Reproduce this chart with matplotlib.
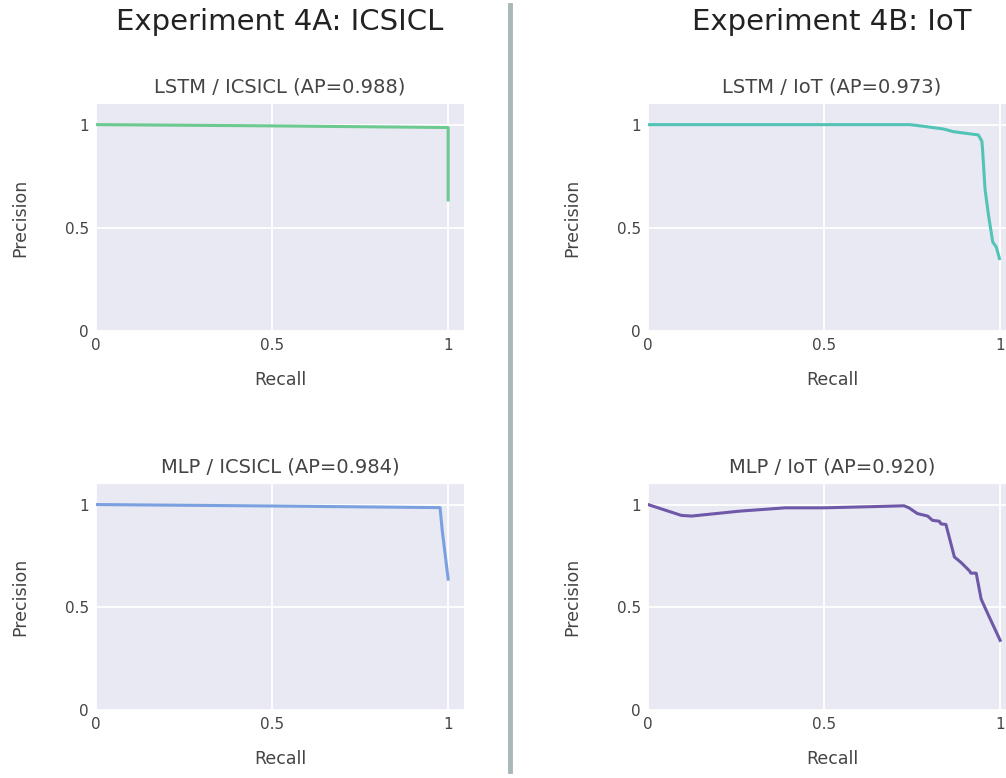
import numpy as np
import matplotlib.pyplot as plt

# PR curve points
lstm_icsicl_recall = [0.0, 0.5, 1.0, 1.0]
lstm_icsicl_precision = [1.0, 0.994, 0.986, 0.635]

mlp_icsicl_recall = [0.0, 0.5, 0.977, 0.983, 1.0]
mlp_icsicl_precision = [1.0, 0.993, 0.985, 0.877, 0.637]

lstm_iot_recall = [0.0, 0.744, 0.782, 0.839, 0.867, 0.938, 0.948, 0.950,
                   0.957, 0.967, 0.979, 0.989, 0.998]
lstm_iot_precision = [1.0, 1.0, 0.992, 0.979, 0.966, 0.950, 0.920, 0.880,
                      0.688, 0.560, 0.431, 0.407, 0.351]

mlp_iot_recall = [0.0, 0.095, 0.124, 0.261, 0.390, 0.499, 0.642, 0.727,
                  0.741, 0.765, 0.794, 0.808, 0.827, 0.832, 0.846, 0.870,
                  0.889, 0.913, 0.917, 0.932, 0.946, 0.965, 1.0]
mlp_iot_precision = [1.0, 0.947, 0.944, 0.968, 0.984, 0.984, 0.990, 0.994,
                     0.984, 0.956, 0.944, 0.923, 0.919, 0.906, 0.903, 0.745,
                     0.718, 0.677, 0.666, 0.666, 0.540, 0.468, 0.339]

panels = [
    ("LSTM / ICSICL (AP=0.988)", lstm_icsicl_recall, lstm_icsicl_precision, "#6cc98f"),
    ("MLP / ICSICL (AP=0.984)", mlp_icsicl_recall, mlp_icsicl_precision, "#7ba0e0"),
    ("LSTM / IoT (AP=0.973)", lstm_iot_recall, lstm_iot_precision, "#52c4b5"),
    ("MLP / IoT (AP=0.920)", mlp_iot_recall, mlp_iot_precision, "#6f58a8"),
]

W, H = 1006, 778
fig = plt.figure(figsize=(W / 100, H / 100), dpi=100)

# axes boxes in pixels: left, top, bottom (width shared)
ax_w = 368
boxes = [(96, 104, 331), (96, 484, 710), (648, 104, 331), (648, 484, 710)]

text_col = "#444444"
for (title, rec, prec, col), (left, top, bot) in zip(panels, boxes):
    ax = fig.add_axes([left / W, 1 - bot / H, ax_w / W, (bot - top) / H])
    ax.set_facecolor("#e9e9f3")
    ax.plot(rec, prec, color=col, lw=2.2, solid_joinstyle="round")
    ax.set_xlim(0, 1.045)
    ax.set_ylim(0, 1.1)
    ax.set_xticks([0, 0.5, 1])
    ax.set_xticklabels(["0", "0.5", "1"])
    ax.set_yticks([0, 0.5, 1])
    ax.set_yticklabels(["0", "0.5", "1"])
    ax.grid(True, color="white", lw=1.3)
    ax.set_axisbelow(True)
    for s in ax.spines.values():
        s.set_visible(False)
    ax.tick_params(length=0, labelsize=11, colors=text_col, pad=5)
    ax.set_xlabel("Recall", fontsize=12.5, color=text_col, labelpad=13)
    ax.set_ylabel("Precision", fontsize=12.5, color=text_col, labelpad=26)
    ax.set_title(title, fontsize=14, color=text_col, pad=8)

fig.text(280 / W, 1 - 22 / H, "Experiment 4A: ICSICL", fontsize=21,
         ha="center", va="center", color="#222222")
fig.text(832 / W, 1 - 22 / H, "Experiment 4B: IoT", fontsize=21,
         ha="center", va="center", color="#222222")

# vertical divider between the two experiments
fig.add_artist(plt.Line2D([509.5 / W, 509.5 / W], [1 - 5 / H, 1 - 771 / H],
                          color="#a8b8b8", lw=3.5, transform=fig.transFigure))

fig.savefig("out.png", dpi=100)
